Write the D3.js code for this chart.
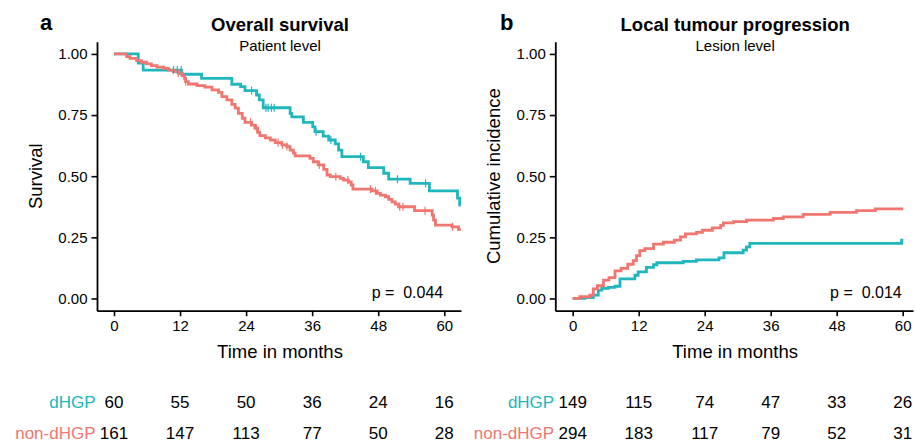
<!DOCTYPE html>
<html>
<head>
<meta charset="utf-8">
<script src="https://cdn.jsdelivr.net/npm/d3@7"></script>
<style>
  body { margin: 0; background: #fff; }
  svg text { font-family: "Liberation Sans", Arial, sans-serif; }
</style>
</head>
<body>
<div id="chart"></div>
<script>
// months on the x axis, same for both panels
const xTicks = [0, 12, 24, 36, 48, 60];
const yTicks = [0, 0.25, 0.5, 0.75, 1];

// panel a: overall survival (time, survival)
const osHgp = [[0, 1], [4.4, 0.962], [5.3, 0.934], [12.3, 0.917], [15.9, 0.9], [21.4, 0.876],
  [23.0, 0.866], [23.8, 0.85], [25.9, 0.832], [26.4, 0.812], [27.1, 0.78], [32.0, 0.757],
  [32.3, 0.743], [34.4, 0.72], [36.1, 0.702], [36.5, 0.682], [38.0, 0.664], [39.0, 0.648],
  [40.2, 0.632], [40.8, 0.607], [41.4, 0.58], [45.3, 0.559], [46.2, 0.535], [49.0, 0.512],
  [49.9, 0.488], [53.8, 0.471], [57.3, 0.44], [62.4, 0.41], [62.8, 0.382], [63.0, 0.382]];
const osNon = [[0, 1], [2.3, 0.989], [2.9, 0.982], [4.1, 0.973], [5.0, 0.966], [5.9, 0.959],
  [6.8, 0.952], [7.8, 0.946], [9.0, 0.941], [9.9, 0.934], [10.8, 0.928], [11.7, 0.921],
  [12.4, 0.911], [12.8, 0.9], [13.0, 0.887], [13.5, 0.877], [15.1, 0.87], [16.5, 0.864],
  [17.8, 0.853], [19.0, 0.843], [19.6, 0.825], [20.5, 0.812], [21.4, 0.794], [22.0, 0.778],
  [22.6, 0.757], [23.3, 0.737], [23.8, 0.72], [25.0, 0.709], [25.6, 0.696], [26.1, 0.679],
  [26.5, 0.666], [27.5, 0.657], [28.4, 0.648], [29.3, 0.637], [30.5, 0.628], [31.4, 0.621],
  [32.0, 0.607], [32.6, 0.594], [32.9, 0.583], [35.6, 0.573], [36.2, 0.559], [37.1, 0.546],
  [38.1, 0.528], [38.7, 0.505], [39.3, 0.498], [41.1, 0.491], [41.7, 0.484], [42.6, 0.477],
  [43.1, 0.464], [43.4, 0.447], [46.9, 0.44], [47.8, 0.43], [48.4, 0.423], [49.3, 0.416],
  [49.9, 0.405], [50.5, 0.395], [51.1, 0.386], [51.7, 0.375], [54.6, 0.359], [57.8, 0.341],
  [58.05, 0.32], [58.4, 0.3], [61.4, 0.293], [62.6, 0.282], [63.0, 0.282]];
const osHgpCensor = [10.8, 11.5, 12.2, 25.0, 27.6, 28.0, 28.6, 29.1, 36.7, 39.4, 44.8, 51.5, 56.6];
const osNonCensor = [11.7, 12.3, 13.0, 24.8, 25.9, 29.8, 30.6, 31.4, 37.3, 40.3, 42.5, 46.6,
  47.5, 51.9, 52.5, 56.5, 61.5];

// panel b: local tumour progression (time, cumulative incidence)
const ltpHgp = [[0, 0], [2.2, 0.004], [3.75, 0.0135], [4.65, 0.034], [5.3, 0.041], [6.5, 0.045],
  [7.7, 0.05], [8.6, 0.08], [11.3, 0.095], [11.9, 0.109], [13.4, 0.127], [14.7, 0.138],
  [15.3, 0.146], [20.1, 0.152], [22.5, 0.158], [26.6, 0.166], [27.5, 0.187], [31.0, 0.198],
  [31.6, 0.211], [32.2, 0.225], [59.8, 0.239], [60.1, 0.239]];
const ltpNon = [[0, 0], [1.3, 0.007], [3.1, 0.0135], [3.75, 0.039], [4.5, 0.052], [5.6, 0.075],
  [6.6, 0.085], [7.7, 0.113], [8.8, 0.123], [10.0, 0.14], [11.0, 0.155], [11.6, 0.175],
  [12.2, 0.196], [13.1, 0.204], [14.7, 0.222], [16.5, 0.23], [18.5, 0.239], [19.6, 0.252],
  [20.5, 0.264], [22.5, 0.27], [23.6, 0.279], [25.4, 0.289], [26.9, 0.299], [27.4, 0.309],
  [29.2, 0.314], [31.6, 0.32], [36.5, 0.327], [38.3, 0.334], [41.9, 0.344], [46.8, 0.352],
  [51.6, 0.359], [55.0, 0.366], [60.1, 0.366]];

// numbers at risk
const groups = ["dHGP", "non-dHGP"];
const osRiskHgp = [60, 55, 50, 36, 24, 16];
const osRiskNon = [161, 147, 113, 77, 50, 28];
const ltpRiskHgp = [149, 115, 74, 47, 33, 26];
const ltpRiskNon = [294, 183, 117, 79, 52, 31];

const colours = ["#20B6BE", "#F0766F"];

const svg = d3.select("#chart").append("svg").attr("width", 916).attr("height", 444);

function drawPanel(p) {
  const x = d3.scaleLinear().domain(p.xDomain).range([p.left, p.right]);
  const y = d3.scaleLinear().domain([-0.05, 1.05]).range([310.7, 41.7]);
  const g = svg.append("g");

  // y axis
  const ya = g.append("g")
    .attr("transform", `translate(${p.left},0)`)
    .call(d3.axisLeft(y).tickValues(yTicks).tickFormat(d3.format(".2f")).tickSize(5.5).tickSizeOuter(0).tickPadding(4));
  // x axis
  const xa = g.append("g")
    .attr("transform", "translate(0,310.7)")
    .call(d3.axisBottom(x).tickValues(xTicks).tickSize(5.5).tickSizeOuter(0).tickPadding(4));

  [ya, xa].forEach((a) => {
    a.select(".domain").attr("stroke", "#000").attr("stroke-width", 1.8);
    a.selectAll(".tick line").attr("stroke", "#000").attr("stroke-width", 1.6);
    a.selectAll(".tick text").attr("fill", "#000").attr("font-size", 15);
  });

  const line = d3.line()
    .curve(d3.curveStepAfter)
    .x((d) => x(d[0]))
    .y((d) => y(d[1]));

  p.series.forEach((s, i) => {
    g.append("path")
      .datum(s)
      .attr("fill", "none")
      .attr("stroke", colours[i])
      .attr("stroke-width", 2.8)
      .attr("d", line);
  });

  // censoring marks
  (p.censors || []).forEach((cs, i) => {
    const s = p.series[i];
    const bis = d3.bisector((d) => d[0]).right;
    cs.forEach((t) => {
      const v = s[Math.max(0, bis(s, t) - 1)][1];
      g.append("line")
        .attr("x1", x(t)).attr("x2", x(t))
        .attr("y1", y(v) - 4).attr("y2", y(v) + 4)
        .attr("stroke", colours[i]).attr("stroke-width", 1.2);
    });
  });

  // p value
  g.append("text")
    .attr("x", x(60) - 1)
    .attr("y", 297.5)
    .attr("text-anchor", "end")
    .attr("font-size", 16)
    .attr("fill", "#000")
    .attr("xml:space", "preserve")
    .text("p =  " + p.pval);

  // titles
  const cx = (p.left + p.right) / 2 + 1;
  g.append("text").attr("x", cx).attr("y", 30.5).attr("text-anchor", "middle")
    .attr("font-size", 18.5).attr("font-weight", "bold").text(p.title);
  g.append("text").attr("x", cx).attr("y", 51).attr("text-anchor", "middle")
    .attr("font-size", 15).text(p.subtitle);
  g.append("text").attr("x", p.tagX).attr("y", 30).attr("font-size", 22)
    .attr("font-weight", "bold").text(p.tag);

  g.append("text").attr("x", cx).attr("y", 357.5).attr("text-anchor", "middle")
    .attr("font-size", 18.5).text("Time in months");
  g.append("text")
    .attr("transform", `translate(${p.left - 55.5},176.2) rotate(-90)`)
    .attr("text-anchor", "middle").attr("font-size", 18.5).text(p.yTitle);

  // risk table
  p.risk.forEach((row, i) => {
    const yy = [408, 438.5][i];
    g.append("text").attr("x", x(0) - 18.5).attr("y", yy).attr("text-anchor", "end")
      .attr("font-size", 17).attr("fill", colours[i]).text(groups[i]);
    g.selectAll(null)
      .data(row)
      .enter()
      .append("text")
      .attr("x", (d, j) => x(xTicks[j]))
      .attr("y", yy)
      .attr("text-anchor", "middle")
      .attr("font-size", 17)
      .attr("fill", "#000")
      .text((d) => d);
  });
}

drawPanel({
  left: 97, right: 461, xDomain: [-3.09, 63.04],
  series: [osHgp, osNon], censors: [osHgpCensor, osNonCensor],
  pval: "0.044", title: "Overall survival", subtitle: "Patient level",
  tag: "a", tagX: 40, yTitle: "Survival",
  risk: [osRiskHgp, osRiskNon],
});

drawPanel({
  left: 555.3, right: 913, xDomain: [-3.16, 61.87],
  series: [ltpHgp, ltpNon],
  pval: "0.014", title: "Local tumour progression", subtitle: "Lesion level",
  tag: "b", tagX: 500, yTitle: "Cumulative incidence",
  risk: [ltpRiskHgp, ltpRiskNon],
});
</script>
</body>
</html>
